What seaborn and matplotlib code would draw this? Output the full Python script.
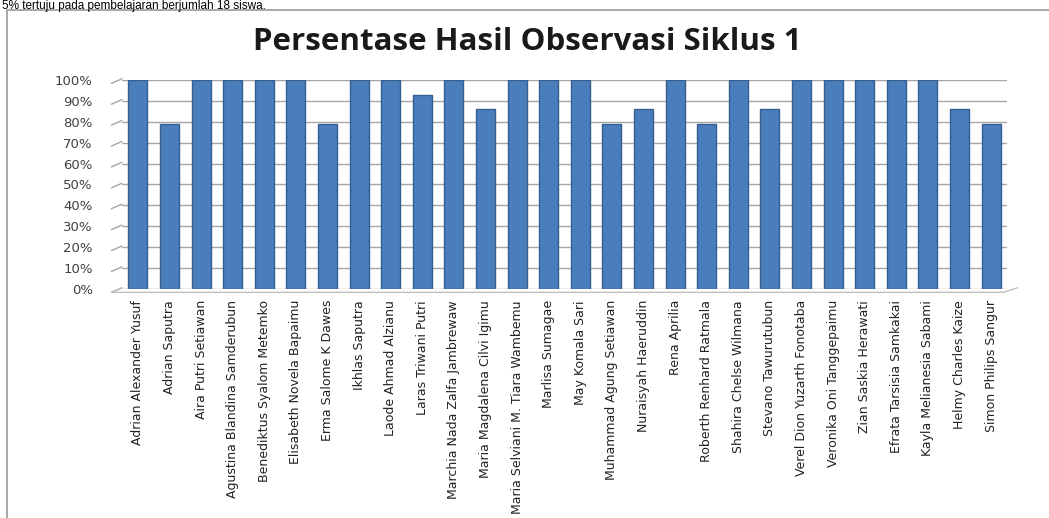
import matplotlib
matplotlib.use("Agg")
import matplotlib.pyplot as plt
import seaborn as sns
import pandas as pd
from matplotlib.patches import Rectangle
from matplotlib.lines import Line2D

students = [
    "Adrian Alexander Yusuf", "Adrian Saputra", "Aira Putri Setiawan",
    "Agustina Blandina Samderubun", "Benediktus Syalom Metemko",
    "Elisabeth Novela Bapaimu", "Erma Salome K Dawes", "Ikhlas Saputra",
    "Laode Ahmad Alzianu", "Laras Triwani Putri", "Marchia Nada Zalfa Jambrewaw",
    "Maria Magdalena Cilvi Igimu", "Maria Selviani M. Tiara Wambemu",
    "Marlisa Sumagae", "May Komala Sari", "Muhammad Agung Setiawan",
    "Nuraisyah Haeruddin", "Rena Aprilia", "Roberth Renhard Ratmala",
    "Shahira Chelse Wilmana", "Stevano Tawurutubun", "Verel Dion Yuzarth Fonotaba",
    "Veronika Oni Tanggepaimu", "Zian Saskia Herawati", "Efrata Tarsisia Samkakai",
    "Kayla Melianesia Sabami", "Helmy Charles Kaize", "Simon Philips Sangur",
]
percent = [100, 79, 100, 100, 100, 100, 79, 100, 100, 93, 100, 86, 100, 100,
           100, 79, 86, 100, 79, 100, 86, 100, 100, 100, 100, 100, 86, 79]
yticks = [0, 10, 20, 30, 40, 50, 60, 70, 80, 90, 100]
title = "Persentase Hasil Observasi Siklus 1"
top_text = "5% tertuju pada pembelajaran berjumlah 18 siswa."

df = pd.DataFrame({"student": students, "percent": percent})

sns.set_theme(style="white")
plt.rcParams["font.family"] = ["DejaVu Sans"]

W, H = 1049, 518
fig = plt.figure(figsize=(W / 100, H / 100), dpi=100)
fig.patch.set_facecolor("white")

left, right, top, bottom = 122, 1007, 80, 289
ax = fig.add_axes([left / W, 1 - bottom / H, (right - left) / W, (bottom - top) / H])

sns.barplot(data=df, x="student", y="percent", ax=ax, color="#4A7EBB",
            width=0.6, saturation=1, edgecolor="#365F91", linewidth=1.0, zorder=3)

ax.set_ylim(0, 100)
ax.set_xlim(-0.5, len(students) - 0.5)
ax.set_yticks(yticks)
ax.set_yticklabels([f"{t}%" for t in yticks], fontsize=9.5, color="#404040")
ax.set_xticks(range(len(students)))
ax.set_xticklabels(students, rotation=90, fontsize=9, color="#222222")
ax.tick_params(axis="both", length=0)
ax.tick_params(axis="y", pad=21)
ax.tick_params(axis="x", pad=8)
ax.set_xlabel("")
ax.set_ylabel("")
for s in ax.spines.values():
    s.set_visible(False)
ax.set_facecolor("none")

ax.yaxis.grid(True, color="#A6A6A6", linewidth=1.0, zorder=0)
ax.set_axisbelow(True)

# 3D-style diagonal side ticks on the left
trans = ax.get_yaxis_transform()
for t in yticks:
    ax.add_line(Line2D([-0.012, 0.0], [t - 1.6, t + 0.6], transform=trans,
                       color="#A6A6A6", linewidth=1.0, clip_on=False))
# floor
ax.add_line(Line2D([-0.012, 0.996, 1.012], [-1.6, -1.6, 0.6], transform=trans,
                   color="#BFBFBF", linewidth=1.0, clip_on=False))

# chart frame
fig.patches.append(Rectangle((7 / W, -0.05), 1.2, 1 - 10 / H + 0.05,
                             transform=fig.transFigure, fill=False,
                             edgecolor="#9A9A9A", linewidth=1.2))

fig.text(527 / W, 1 - 42 / H, title, ha="center", va="center",
         fontsize=22.5, fontweight="bold", color="#1A1A1A", family="Open Sans")

fig.text(2 / W, 1.0, top_text, ha="left", va="top", fontsize=8.5,
         color="black", family="Liberation Sans")

fig.savefig("out.png", dpi=100)
